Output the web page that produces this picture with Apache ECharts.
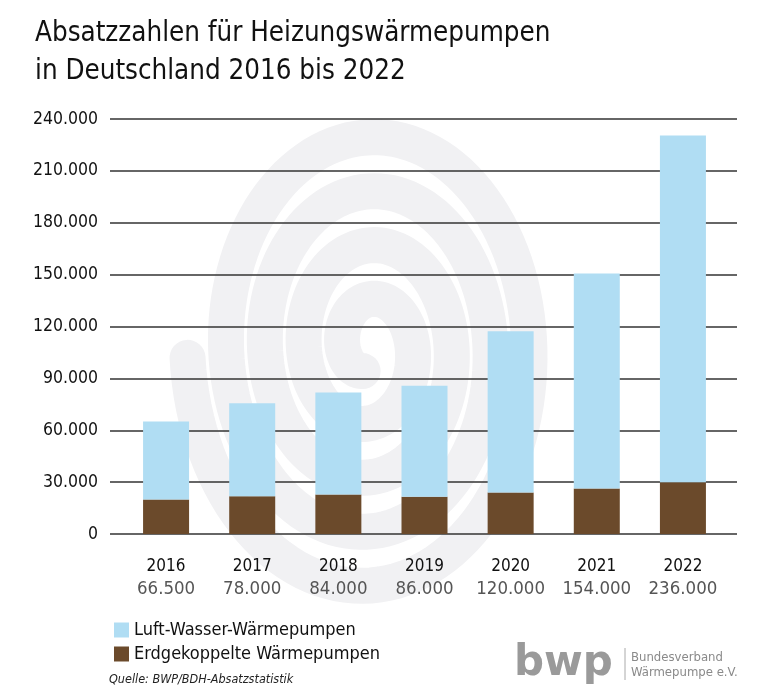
<!DOCTYPE html>
<html>
<head>
<meta charset="utf-8">
<script src="https://cdn.jsdelivr.net/npm/echarts@6/dist/echarts.min.js"></script>
<style>html,body{margin:0;padding:0;background:#fff;}#c{width:768px;height:695px;}</style>
</head>
<body>
<div id="c"></div>
<script>
var years = ['2016', '2017', '2018', '2019', '2020', '2021', '2022'];
var totalLabels = ['66.500', '78.000', '84.000', '86.000', '120.000', '154.000', '236.000'];
var erdgekoppelt = [20000, 21900, 22800, 21500, 24000, 26300, 30000];
var luftWasser = [45000, 53700, 59100, 64200, 93300, 124400, 200400];
var yTicks = { min: 0, max: 240000, interval: 30000 };

var FONT = '"DejaVu Sans Condensed", "DejaVu Sans", sans-serif';
var BLUE = '#b0ddf3';
var BROWN = '#6b4a2b';

function fmt(v) { return String(v).replace(/\B(?=(\d{3})+(?!\d))/g, '.'); }

// decorative spiral watermark
function spiralPath() {
  var cx = 368, cy = 348, pts = [];
  for (var t = 0.6 * Math.PI; t <= 9.0 * Math.PI; t += 0.05) {
    var r = 8 + 8.6 * t;
    pts.push([cx + r * Math.cos(t) * 0.72, cy + r * Math.sin(t)]);
  }
  return pts;
}

var chart = echarts.init(document.getElementById('c'));
chart.setOption({
  animation: false,
  title: {
    text: 'Absatzzahlen für Heizungswärmepumpen\nin Deutschland 2016 bis 2022',
    left: 30, top: 10,
    textStyle: { fontFamily: FONT, fontSize: 27.5, fontWeight: 'normal', color: '#111', lineHeight: 38 }
  },
  graphic: [
    { type: 'polyline', z: -10, silent: true, shape: { points: spiralPath() },
      style: { stroke: '#f1f1f3', lineWidth: 36, fill: null, lineCap: 'round' } },
    { type: 'text', left: 514, top: 643, style: { text: 'bwp', fontFamily: '"DejaVu Sans", sans-serif', fontWeight: 'bold', fontSize: 42, fill: '#9a9a9a' } },
    { type: 'line', shape: { x1: 625, y1: 648, x2: 625, y2: 680 }, style: { stroke: '#aaa', lineWidth: 1 } },
    { type: 'text', left: 631, top: 650, style: { text: 'Bundesverband\nWärmepumpe e.V.', fontFamily: FONT, fontSize: 13, lineHeight: 15, fill: '#8a8a8a' } },
    { type: 'text', left: 109, top: 673, style: { text: 'Quelle: BWP/BDH-Absatzstatistik', fontFamily: FONT, fontStyle: 'italic', fontSize: 12.5, fill: '#222' } }
  ],
  legend: {
    orient: 'vertical', left: 109, top: 616,
    itemWidth: 15, itemHeight: 15, itemGap: 6,
    icon: 'rect',
    data: ['Luft-Wasser-Wärmepumpen', 'Erdgekoppelte Wärmepumpen'],
    textStyle: { fontFamily: FONT, fontSize: 18, color: '#111' }
  },
  grid: [
    { left: 110, right: 31, top: 119, bottom: 161 },
    { left: 123, right: 42, top: 119, bottom: 161 }
  ],
  xAxis: [
    { type: 'category', gridIndex: 0, data: years, show: false },
    { type: 'category', gridIndex: 1, data: years,
      axisLine: { show: false }, axisTick: { show: false },
      axisLabel: {
        margin: 22,
        formatter: function (v, i) { return '{y|' + v + '}\n{t|' + totalLabels[i] + '}'; },
        rich: {
          y: { fontFamily: FONT, fontSize: 17, color: '#111', lineHeight: 22 },
          t: { fontFamily: FONT, fontSize: 18.5, color: '#555', lineHeight: 22 }
        }
      }
    }
  ],
  yAxis: [
    { type: 'value', gridIndex: 0, min: yTicks.min, max: yTicks.max, interval: yTicks.interval,
      axisLine: { show: false }, axisTick: { show: false },
      axisLabel: { margin: 12, formatter: fmt, fontFamily: FONT, fontSize: 17.5, color: '#111' },
      splitLine: { lineStyle: { color: '#333', width: 1.5 } }
    },
    { type: 'value', gridIndex: 1, min: yTicks.min, max: yTicks.max, interval: yTicks.interval, show: false, splitLine: { show: false } }
  ],
  series: [
    { name: 'Erdgekoppelte Wärmepumpen', type: 'bar', stack: 'a', xAxisIndex: 1, yAxisIndex: 1,
      barWidth: 46, data: erdgekoppelt, itemStyle: { color: BROWN }, z: 3 },
    { name: 'Luft-Wasser-Wärmepumpen', type: 'bar', stack: 'a', xAxisIndex: 1, yAxisIndex: 1,
      barWidth: 46, data: luftWasser, itemStyle: { color: BLUE }, z: 3 }
  ]
});
</script>
</body>
</html>
